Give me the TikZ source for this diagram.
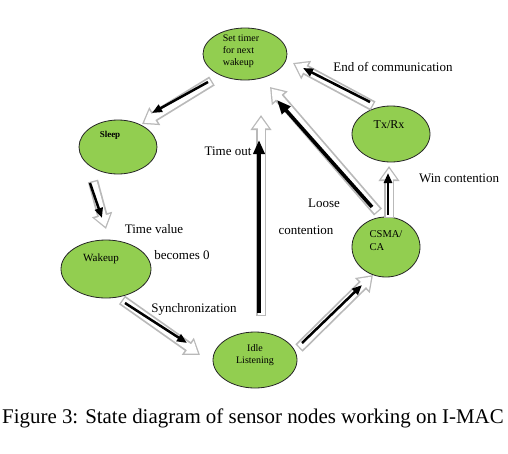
\documentclass[tikz,border=0pt]{standalone}
\usepackage{fontspec}
\setmainfont{Liberation Serif}
\usetikzlibrary{arrows.meta,shapes.geometric}
\definecolor{stategreen}{RGB}{146,206,80}
\definecolor{shadowgray}{RGB}{185,185,185}
\tikzset{
  state/.style={ellipse, draw=black!85, line width=0.8pt, fill=stategreen, inner sep=0pt},
  stxt/.style={font=\fontsize{10}{12}\selectfont, align=left, inner sep=0pt},
  lbl/.style={font=\fontsize{13}{15}\selectfont, inner sep=0pt},
  shadowout/.style={draw=shadowgray, line width=10.5pt, -{Triangle[length=15pt,width=20pt]}},
  shadowin/.style={draw=white, line width=7pt, -{Triangle[length=11pt,width=15pt]}, shorten >=2.4pt, shorten <=1.4pt},
  blackarr/.style={draw=black, line width=2.5pt, -{Triangle[length=10pt,width=8pt]}},
  blackfat/.style={draw=black, line width=3.6pt, -{Triangle[length=14pt,width=11pt]}}
}
\newcommand{\fatarrow}[5][blackarr]{%
  \draw[shadowout] (#4) -- (#5);
  \draw[shadowin] (#4) -- (#5);
  \draw[#1] (#2) -- (#3);
}
\begin{document}
\begin{tikzpicture}[x=1pt,y=-1pt]
\useasboundingbox (0,0) rectangle (508,453);
% states
\node[state, minimum width=84pt, minimum height=52pt] (settimer) at (245,54) {};
\node[state, minimum width=78pt, minimum height=54pt] (sleep) at (118,147) {};
\node[state, minimum width=90pt, minimum height=58pt] (wakeup) at (106,269) {};
\node[state, minimum width=84pt, minimum height=56pt] (idle) at (255,360) {};
\node[state, minimum width=78pt, minimum height=56pt] (txrx) at (391,134) {};
\node[state, minimum width=68pt, minimum height=60pt] (csma) at (386,247) {};
% state texts
\node[stxt] (settimer-t) at (241,51) {Set timer\\for next\\wakeup};
\node[stxt, font=\fontsize{9}{11}\selectfont\bfseries] (sleep-t) at (110,135) {Sleep};
\node[stxt, font=\fontsize{11}{13}\selectfont] (wakeup-t) at (101,259) {Wakeup};
\node[stxt, align=center] (idle-t) at (255,355) {Idle\\Listening};
\node[stxt, font=\fontsize{12}{14}\selectfont] (txrx-t) at (389,125) {Tx/Rx};
\node[stxt, font=\fontsize{10.5}{13}\selectfont] (csma-t) at (386,241) {CSMA/\\CA};
% arrow end points
\coordinate (a1bt) at (208,82); \coordinate (a1bh) at (152,113);
\coordinate (a1st) at (212,81); \coordinate (a1sh) at (142,124);
\coordinate (a2bt) at (90,183); \coordinate (a2bh) at (102,218);
\coordinate (a2st) at (93,181); \coordinate (a2sh) at (106,229);
\coordinate (a3bt) at (125,303); \coordinate (a3bh) at (187,343);
\coordinate (a3st) at (122,300); \coordinate (a3sh) at (200,355);
\coordinate (a4bt) at (259,313); \coordinate (a4bh) at (259,140);
\coordinate (a4st) at (261,316); \coordinate (a4sh) at (261,115);
\coordinate (a5bt) at (302,343); \coordinate (a5bh) at (362,285);
\coordinate (a5st) at (299,348); \coordinate (a5sh) at (373,275);
\coordinate (a6bt) at (372,207); \coordinate (a6bh) at (277,100);
\coordinate (a6st) at (378,212); \coordinate (a6sh) at (270,87);
\coordinate (a7bt) at (388,215); \coordinate (a7bh) at (388,173);
\coordinate (a7st) at (389,218); \coordinate (a7sh) at (389,166);
\coordinate (a8bt) at (370,102); \coordinate (a8bh) at (303,68);
\coordinate (a8st) at (373,106); \coordinate (a8sh) at (293,63);
% arrows
\fatarrow{a1bt}{a1bh}{a1st}{a1sh}
\fatarrow{a2bt}{a2bh}{a2st}{a2sh}
\fatarrow{a3bt}{a3bh}{a3st}{a3sh}
\fatarrow[blackfat]{a4bt}{a4bh}{a4st}{a4sh}
\fatarrow{a5bt}{a5bh}{a5st}{a5sh}
\fatarrow[blackfat]{a6bt}{a6bh}{a6st}{a6sh}
\fatarrow{a7bt}{a7bh}{a7st}{a7sh}
\fatarrow{a8bt}{a8bh}{a8st}{a8sh}
% labels
\node[lbl] (l-end) at (393,67) {End of communication};
\node[lbl] (l-win) at (459,178) {Win contention};
\node[lbl] (l-loose) at (324,203) {Loose};
\node[lbl] (l-cont) at (306,230) {contention};
\node[lbl] (l-timeout) at (228,151) {Time out};
\node[lbl] (l-tv) at (154,229) {Time value};
\node[lbl] (l-b0) at (182,255) {becomes 0};
\node[lbl] (l-sync) at (194,309) {Synchronization};
\node[font=\fontsize{20.9}{25}\selectfont, inner sep=0pt] (caption) at (253,418) {Figure 3: State diagram of sensor nodes working on I-MAC};
\end{tikzpicture}
\end{document}
